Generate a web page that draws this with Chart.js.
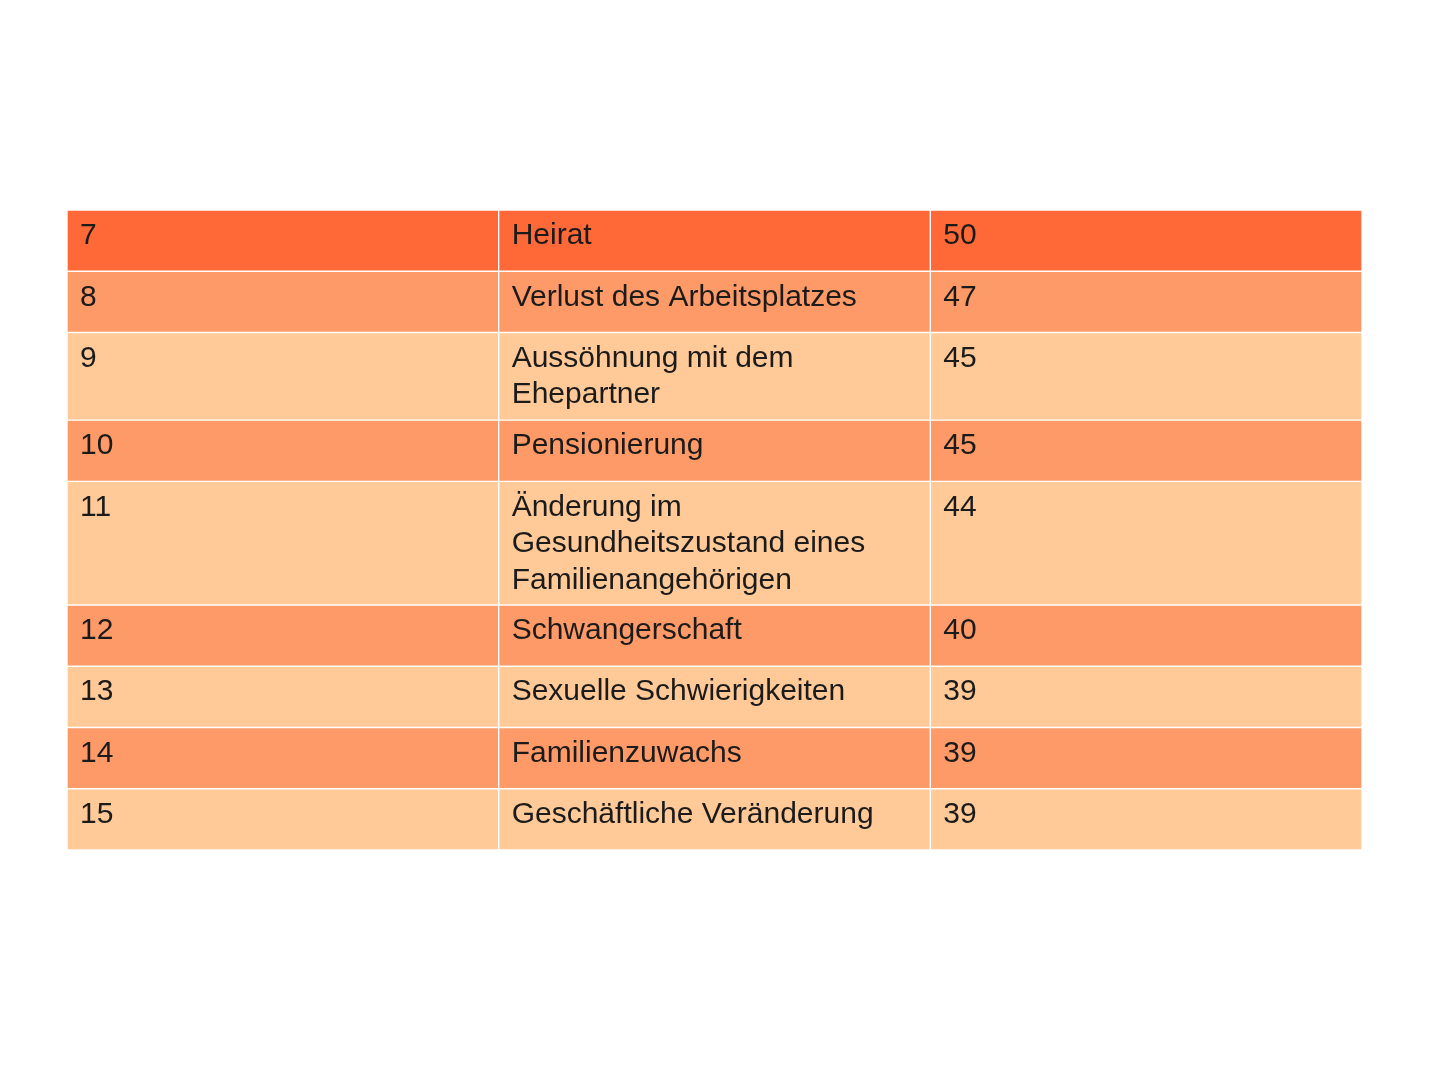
<!DOCTYPE html>
<html><head><meta charset="utf-8">
<script src="https://cdn.jsdelivr.net/npm/chart.js@4/dist/chart.umd.min.js"></script>
<style>html,body{margin:0;padding:0;background:#fff}canvas{display:block}</style>
</head><body>
<div style="width:1441px;height:1080px"><canvas id="c"></canvas></div>
<script>
const ranks = ["7","8","9","10","11","12","13","14","15"];
const events = [
  ["Heirat"],
  ["Verlust des Arbeitsplatzes"],
  ["Aussöhnung mit dem","Ehepartner"],
  ["Pensionierung"],
  ["Änderung im","Gesundheitszustand eines","Familienangehörigen"],
  ["Schwangerschaft"],
  ["Sexuelle Schwierigkeiten"],
  ["Familienzuwachs"],
  ["Geschäftliche Veränderung"]
];
const scores = ["50","47","45","45","44","40","39","39","39"];
const columns = ["Rang","Ereignis","Wert"];

const rowHeight = n => n===1 ? 61.5 : (n===2 ? 88 : 124);
const colors = ["#FF6938","#FE9A67","#FFCA98","#FE9A67","#FFCA98","#FE9A67","#FFCA98","#FE9A67","#FFCA98"];
let y = 0; const bounds = [];
events.forEach(e => { const h = rowHeight(e.length); bounds.push([y, y+h]); y += h; });
const total = y;

const datasets = bounds.map((b,i) => ({
  data: columns.map(() => [b[0], b[1]]),
  backgroundColor: colors[i],
  borderColor: "#ffffff",
  borderWidth: 1,
  borderSkipped: false,
  grouped: false,
  barPercentage: 1,
  categoryPercentage: 1
}));

const textPlugin = {
  id: "cellText",
  afterDatasetsDraw(chart) {
    const ctx = chart.ctx, xs = chart.scales.x, ys = chart.scales.y;
    ctx.save();
    ctx.font = "30px 'Liberation Sans', Arial, sans-serif";
    ctx.fillStyle = "#1b1b1b";
    ctx.textBaseline = "middle";
    const colW = xs.getPixelForValue(1) - xs.getPixelForValue(0);
    bounds.forEach((b, i) => {
      const top = ys.getPixelForValue(b[0]);
      const cells = [[ranks[i]], events[i], [scores[i]]];
      cells.forEach((lines, c) => {
        const left = xs.getPixelForValue(c) - colW/2 + 13;
        lines.forEach((t, k) => ctx.fillText(t, left, top + 26 + k*36.5));
      });
    });
    ctx.restore();
  }
};

new Chart(document.getElementById("c"), {
  type: "bar",
  data: { labels: columns, datasets },
  options: {
    responsive: true, maintainAspectRatio: false, animation: false,
    layout: { padding: { left: 67, right: 79, top: 210, bottom: 230 } },
    plugins: { legend: { display: false }, tooltip: { enabled: false } },
    scales: {
      x: { display: false, offset: true, grid: { display: false } },
      y: { display: false, reverse: true, min: 0, max: total, grid: { display: false } }
    }
  },
  plugins: [textPlugin]
});
</script>
</body></html>
